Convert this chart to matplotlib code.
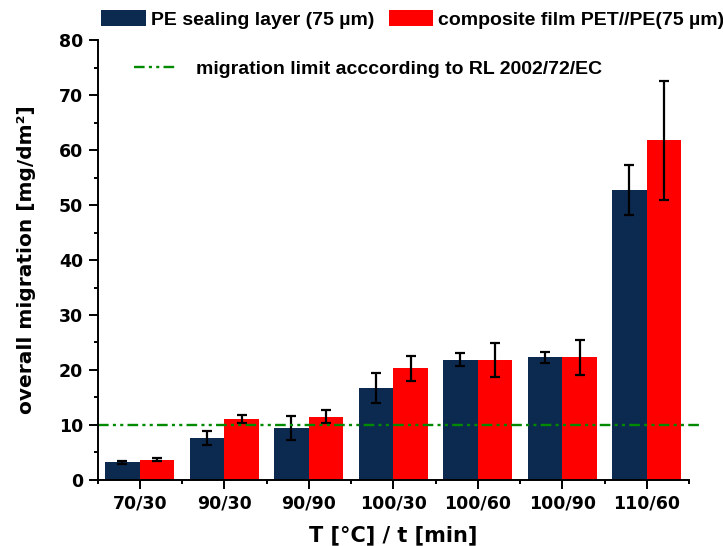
import matplotlib
matplotlib.use("Agg")
import matplotlib.pyplot as plt
import numpy as np

categories = ["70/30", "90/30", "90/90", "100/30", "100/60", "100/90", "110/60"]
pe_layer = [3.2, 7.6, 9.4, 16.7, 21.9, 22.3, 52.7]
pe_err = [0.3, 1.3, 2.2, 2.7, 1.1, 1.0, 4.6]
composite = [3.7, 11.1, 11.5, 20.3, 21.8, 22.3, 61.8]
composite_err = [0.3, 0.75, 1.2, 2.3, 3.1, 3.2, 10.8]
limit = 10

navy = "#0c2a50"
red = "#ff0000"
green = "#008a00"
tickfont = "DejaVu Sans"
legfont = "Liberation Sans"

fig = plt.figure(figsize=(7.23, 5.46), dpi=100)
ax = fig.add_axes([0.1349, 0.1209, 0.953 - 0.1349, 0.9267 - 0.1209])

x = np.arange(len(categories))
w = 0.41
b1 = ax.bar(x - w / 2, pe_layer, w, color=navy, label="PE sealing layer (75 µm)")
b2 = ax.bar(x + w / 2, composite, w, color=red, label="composite film PET//PE(75 µm)")
ax.errorbar(x - w / 2, pe_layer, yerr=pe_err, fmt="none", ecolor="black",
            elinewidth=1.6, capsize=3.4, capthick=1.6)
ax.errorbar(x + w / 2, composite, yerr=composite_err, fmt="none", ecolor="black",
            elinewidth=1.6, capsize=3.4, capthick=1.6)

# limit line runs a bit past the axis end
lim_line, = ax.plot([-0.5, 6.63], [limit, limit], color=green, lw=1.7,
                    dashes=(4.5, 1.8, 1.3, 1.8, 1.3, 1.8), clip_on=False,
                    label="migration limit acccording to RL 2002/72/EC")

ax.set_xlim(-0.5, 6.5)
ax.set_ylim(0, 80)
ax.set_yticks(np.arange(0, 81, 10))
ax.set_yticks(np.arange(5, 80, 10), minor=True)
ax.set_xticks(x)
ax.set_xticks(np.arange(-0.5, 6.6, 1), minor=True)
ax.set_xticklabels(categories)

for s in ["top", "right"]:
    ax.spines[s].set_visible(False)
for s in ["left", "bottom"]:
    ax.spines[s].set_linewidth(1.4)
ax.tick_params(which="major", length=6.5, width=1.4, direction="out")
ax.tick_params(which="minor", length=3.2, width=1.4, direction="out")
ax.tick_params(axis="both", which="major", labelsize=12.5, pad=4)
for lab in ax.get_xticklabels() + ax.get_yticklabels():
    lab.set_fontfamily(tickfont)
    lab.set_fontweight("bold")

ax.set_xlabel("T [°C] / t [min]", fontsize=15, fontweight="bold",
              fontfamily=tickfont, labelpad=9)
ax.set_ylabel("overall migration [mg/dm²]", fontsize=14.5, fontweight="bold",
              fontfamily=tickfont, labelpad=16)

legprop = {"family": legfont, "weight": "bold", "size": 14}
leg1 = fig.legend(handles=[b1, b2], loc="center left", bbox_to_anchor=(101 / 723, 1 - 19.5 / 546),
                  ncol=2, frameon=False, prop=legprop,
                  handlelength=2.3, handleheight=0.9, handletextpad=0.25,
                  columnspacing=0.75, borderaxespad=0.0, borderpad=0.0)
fig.legend(handles=[lim_line], loc="center left", bbox_to_anchor=(134 / 723, 1 - 69 / 546),
           frameon=False, prop=legprop, handlelength=2.2, handletextpad=1.0,
           borderaxespad=0.0, borderpad=0.0)

fig.savefig("out.png", dpi=100)
